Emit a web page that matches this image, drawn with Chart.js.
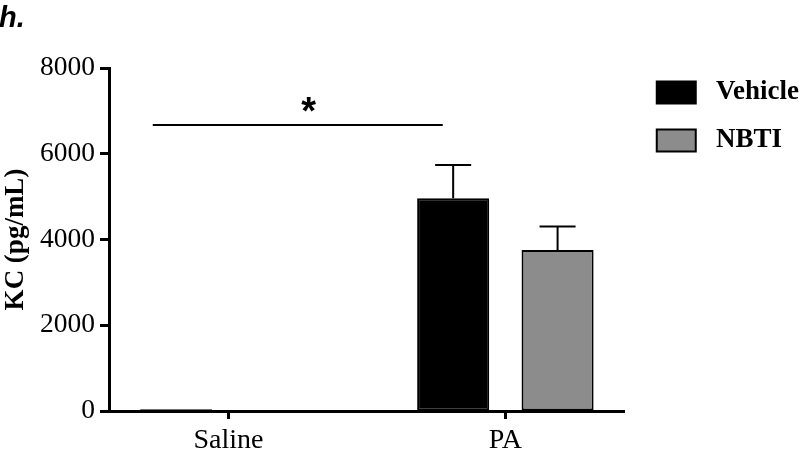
<!DOCTYPE html>
<html lang="en">
<head>
    <meta charset="UTF-8">
    <title>KC (pg/mL)</title>
    <script src="https://cdn.jsdelivr.net/npm/chart.js"></script>
    <style>
        html, body { margin: 0; padding: 0; background: #fff; }
        .wrap { width: 800px; height: 451px; position: relative; }
    </style>
</head>
<body>
    <div class="wrap"><canvas id="kcChart"></canvas></div>

    <script>
        // data
        const categories = ['Saline', 'PA'];
        const vehicleMean = [40, 4960];
        const vehicleErr = [0, 780];
        const nbtiMean = [10, 3755];
        const nbtiErr = [0, 550];
        const yTicks = [0, 2000, 4000, 6000, 8000];
        // significance bracket, in axis units (x: category index, y: pg/mL)
        const sigLine = { from: -0.273, to: 0.774, at: 6670, starX: 0.29, starY: 7140, text: '*' };
        const panelLabel = 'h.';

        const errors = [vehicleErr, nbtiErr];
        const means = [vehicleMean, nbtiMean];

        Chart.defaults.font.family = "'Liberation Serif', 'Times New Roman', serif";
        Chart.defaults.color = '#000';

        // error bars, significance line, panel letter
        const extrasPlugin = {
            id: 'extras',
            afterDatasetsDraw(chart) {
                const { ctx, scales } = chart;
                const y = scales.y, x = scales.x;
                ctx.save();
                ctx.strokeStyle = '#000';
                ctx.lineWidth = 2;
                chart.data.datasets.forEach((ds, i) => {
                    const meta = chart.getDatasetMeta(i);
                    meta.data.forEach((bar, j) => {
                        const err = errors[i][j];
                        if (!err) return;
                        const top = y.getPixelForValue(means[i][j] + err);
                        const half = bar.width / 4;
                        ctx.beginPath();
                        ctx.moveTo(bar.x, bar.y);
                        ctx.lineTo(bar.x, top);
                        ctx.moveTo(bar.x - half, top);
                        ctx.lineTo(bar.x + half, top);
                        ctx.stroke();
                    });
                });

                const ly = y.getPixelForValue(sigLine.at);
                ctx.beginPath();
                ctx.moveTo(x.getPixelForValue(sigLine.from), ly);
                ctx.lineTo(x.getPixelForValue(sigLine.to), ly);
                ctx.stroke();

                ctx.fillStyle = '#000';
                ctx.font = "bold 38px 'Liberation Sans', Arial, sans-serif";
                ctx.textAlign = 'center';
                ctx.textBaseline = 'middle';
                ctx.fillText(sigLine.text, x.getPixelForValue(sigLine.starX), y.getPixelForValue(sigLine.starY) + 9);
                ctx.restore();
            },
            afterDraw(chart) {
                const ctx = chart.ctx;
                ctx.save();
                ctx.fillStyle = '#000';
                ctx.font = "italic bold 29px 'Liberation Sans', Arial, sans-serif";
                ctx.textAlign = 'left';
                ctx.textBaseline = 'alphabetic';
                ctx.fillText(panelLabel, -1, 27);
                ctx.restore();
            }
        };

        const ctx = document.getElementById('kcChart').getContext('2d');
        const kcChart = new Chart(ctx, {
            type: 'bar',
            data: {
                datasets: [{
                    label: 'Vehicle',
                    data: categories.map((c, i) => ({ x: i, y: vehicleMean[i] })),
                    backgroundColor: '#000',
                    borderColor: '#000',
                    borderWidth: 2,
                    borderSkipped: false
                }, {
                    label: 'NBTI',
                    data: categories.map((c, i) => ({ x: i, y: nbtiMean[i] })),
                    backgroundColor: '#8c8c8c',
                    borderColor: '#000',
                    borderWidth: 2,
                    borderSkipped: false
                }]
            },
            options: {
                responsive: true,
                maintainAspectRatio: false,
                animation: false,
                categoryPercentage: 0.754,
                barPercentage: 0.69,
                layout: { padding: { top: 58, left: 0, right: -9, bottom: 0 } },
                scales: {
                    x: {
                        type: 'linear',
                        position: 'bottom',
                        min: -0.431,
                        max: 1.431,
                        offset: false,
                        afterBuildTicks: s => { s.ticks = categories.map((c, i) => ({ value: i })); },
                        afterFit: s => { s.height = 40; },
                        ticks: {
                            callback: v => categories[v],
                            font: { size: 28 },
                            padding: 5,
                            maxRotation: 0,
                            autoSkip: false
                        },
                        grid: {
                            offset: false,
                            drawOnChartArea: false,
                            tickLength: 8,
                            tickWidth: 3,
                            tickColor: '#000'
                        },
                        border: { display: true, color: '#000', width: 3 }
                    },
                    xTop: {
                        type: 'linear',
                        position: 'top',
                        display: true,
                        afterFit: s => { s.height = 10; },
                        ticks: { display: false },
                        grid: { display: false },
                        border: { display: false }
                    },
                    y: {
                        min: 0,
                        max: 8000,
                        afterBuildTicks: s => { s.ticks = yTicks.map(v => ({ value: v })); },
                        afterFit: s => { s.width = 109; },
                        ticks: {
                            callback: v => String(v),
                            font: { size: 27.5 },
                            padding: 5
                        },
                        grid: {
                            drawOnChartArea: false,
                            tickLength: 9,
                            tickWidth: 3,
                            tickColor: '#000'
                        },
                        border: { display: true, color: '#000', width: 3 },
                        title: {
                            display: true,
                            text: 'KC (pg/mL)',
                            font: { size: 27, weight: 'bold' },
                            padding: 0
                        }
                    },
                    yRight: {
                        type: 'linear',
                        position: 'right',
                        display: true,
                        afterFit: s => { s.width = 11; },
                        ticks: { display: false },
                        grid: { display: false },
                        border: { display: false }
                    }
                },
                plugins: {
                    tooltip: { enabled: false },
                    legend: {
                        position: 'right',
                        align: 'start',
                        maxWidth: 220,
                        labels: {
                            boxWidth: 39,
                            boxHeight: 22,
                            padding: 21,
                            font: { size: 27, weight: 'bold' },
                            generateLabels: chart => {
                                const items = Chart.defaults.plugins.legend.labels.generateLabels(chart);
                                items.forEach(it => { it.text = ' ' + it.text; });
                                return items;
                            }
                        }
                    }
                }
            },
            plugins: [extrasPlugin]
        });
    </script>
</body>
</html>
